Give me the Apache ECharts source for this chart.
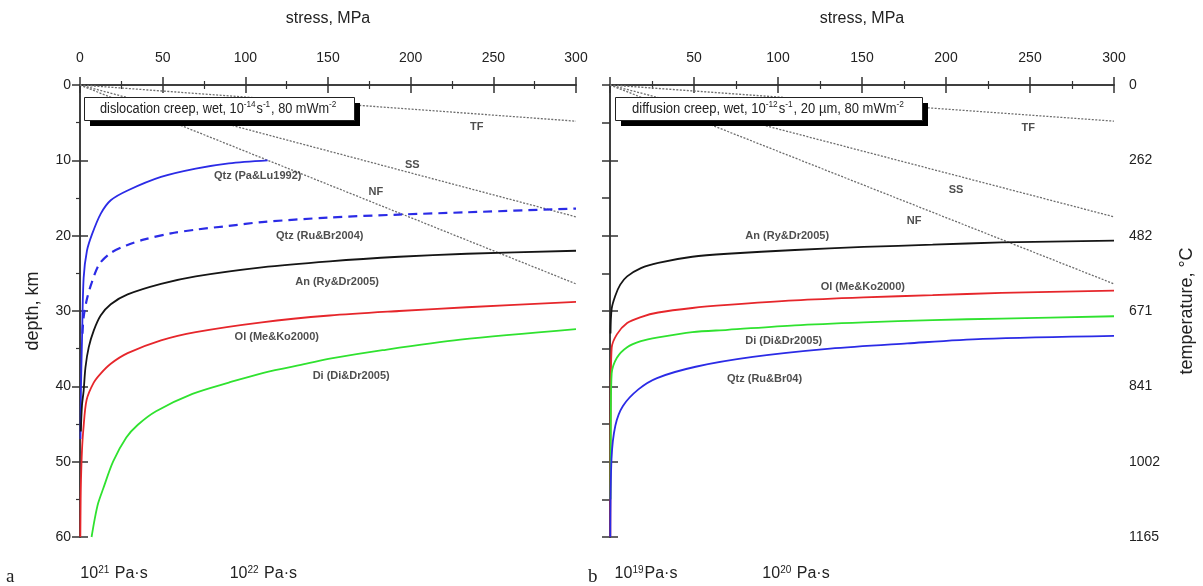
<!DOCTYPE html>
<html><head><meta charset="utf-8">
<script src="https://cdn.jsdelivr.net/npm/echarts@6/dist/echarts.min.js"></script>
<style>html,body{margin:0;padding:0;background:#fff}#c{width:1203px;height:586px}</style>
</head><body><div id="c"></div>
<script>
// ---------- data (stress MPa, depth km) ----------
const stressTicks = [0, 50, 100, 150, 200, 250, 300];
const depthTicks = [0, 10, 20, 30, 40, 50, 60];
const temperatureLabels = ['0', '262', '482', '671', '841', '1002', '1165'];
const viscosityLabelsA = ['21', '22'];
const viscosityLabelsB = ['19', '20'];

// panel a: dislocation creep
const aQtzPaLu = [[0.3,47],[0.6,40],[1.2,34],[2.2,25.6],[4.2,22],[7.3,19.8],[12.5,17.1],[18.6,15.3],[28.8,14],[49,12.2],[70,11.1],[90,10.4],[113.5,10]];
const aQtzRuBr = [[1.5,33],[2.2,30.8],[4.2,28.4],[7,26.3],[11.6,23.8],[18.6,22.3],[28,21.3],[39,20.5],[55,19.7],[70,19.2],[90,18.7],[110,18.2],[150,17.6],[193,17.2],[234,16.9],[300,16.4]];
const aAn = [[0.5,46],[1.2,42.5],[2.2,40.6],[3.3,37.5],[5.3,34.8],[8.3,32.6],[12.5,30.6],[18.6,29.1],[28.8,27.8],[49,26.4],[70,25.4],[110,24.2],[151,23.4],[193,22.8],[234,22.4],[300,22.0]];
const aOl = [[0.2,60],[0.4,55],[0.6,52.4],[1.2,48.5],[2,45.8],[4,41.8],[8.3,39.5],[12.5,38.3],[18.6,37],[28.8,35.6],[49,33.9],[70,32.8],[110,31.5],[151,30.6],[193,30],[234,29.5],[300,28.8]];
const aDi = [[7,60],[9,57.5],[11,55.5],[14,53.6],[20,50],[28,46.8],[35,45.1],[46,43.3],[68,41],[90,39.5],[111,38.2],[137,37],[152,36.3],[183,35.2],[230,33.8],[300,32.4]];

// panel b: diffusion creep
const bAn = [[0.3,33],[1,29.7],[3.1,28],[6.1,26.5],[10.2,25.4],[18.4,24.3],[28.7,23.6],[49,22.8],[70,22.4],[110,21.9],[151,21.5],[192,21.2],[233,20.9],[300,20.65]];
const bOl = [[0.2,60],[0.4,42],[1,34.9],[4.1,33.1],[10.2,31.6],[18.4,30.8],[28.7,30.2],[49,29.6],[70,29.2],[110,28.6],[151,28.2],[192,27.9],[233,27.6],[300,27.3]];
const bDi = [[0.3,55],[0.5,44],[1,38.3],[4.1,36.2],[10.2,34.8],[18.4,34],[28.7,33.5],[49,32.8],[70,32.5],[110,31.9],[151,31.5],[192,31.2],[233,31],[300,30.7]];
const bQtz = [[0.2,60],[0.9,49.6],[3.2,45.2],[7.7,42.6],[16.9,40.4],[28,38.9],[51,37.4],[85,36.1],[131,35.0],[177,34.3],[222,33.7],[300,33.3]];

// fault (frictional) lines, straight from origin
const faultTF = [[0,0],[300,4.8]];
const faultSS = [[0,0],[300,17.5]];
const faultNF = [[0,0],[300,26.4]];

// curve labels [stress, depth, text]
const labelsA = [[240,5.6,'TF'],[201,10.6,'SS'],[179,14.2,'NF'],[107.5,12.1,'Qtz (Pa&Lu1992)'],[145,20.1,'Qtz (Ru&Br2004)'],[155.5,26.2,'An (Ry&Dr2005)'],[119,33.4,'Ol (Me&Ko2000)'],[164,38.6,'Di (Di&Dr2005)']];
const labelsB = [[249,5.7,'TF'],[206,13.9,'SS'],[181,18.1,'NF'],[105.5,20.1,'An (Ry&Dr2005)'],[150.5,26.8,'Ol (Me&Ko2000)'],[103.4,34.0,'Di (Di&Dr2005)'],[92,39.0,'Qtz (Ru&Br04)']];

// ---------- styles ----------
const FONT = "'Liberation Sans',Arial,sans-serif";
const AX = '#333';
const C = {blue:'#2b2be6', red:'#e6262b', green:'#2fe22f', black:'#151515', fault:'#6e6e6e'};

function xTop(grid, hideZero){
  return {type:'value', gridIndex:grid, position:'top', min:0, max:300, interval:50,
    axisLine:{show:true,lineStyle:{color:AX,width:1.5}},
    axisTick:{show:true,inside:false,length:8,lineStyle:{color:AX,width:1.5}},
    minorTick:{show:true,splitNumber:2,length:4,lineStyle:{color:AX,width:1.2}},
    splitLine:{show:false},
    axisLabel:{show:true,fontFamily:FONT,fontSize:14,color:'#222',margin:20,
      formatter:v=> (hideZero && v===0) ? '' : String(v)},
    name:'stress, MPa', nameLocation:'middle', nameGap:58,
    nameTextStyle:{fontFamily:FONT,fontSize:16,color:'#222'}};
}
function xBottom(grid, exps, pads){
  return {type:'value', gridIndex:grid, position:'bottom', min:0, max:300, interval:50,
    axisLine:{show:true,lineStyle:{color:AX,width:1.5}},
    axisTick:{show:true,length:8,lineStyle:{color:AX,width:1.5}},
    minorTick:{show:true,splitNumber:2,length:4,lineStyle:{color:AX,width:1.2}},
    splitLine:{show:false},
    axisLabel:{show:true,margin:28,color:'#222',fontFamily:FONT,fontSize:16,
      formatter:v=>{
        if(v===0) return '{p0|}{b|10}{s|'+exps[0]+'}{b|'+pads[2]+'Pa·s}';
        if(v===100) return '{p1|}{b|10}{s|'+exps[1]+'}{b| Pa·s}';
        return '';
      },
      rich:{
        b:{fontFamily:FONT,fontSize:16,color:'#222'},
        s:{fontFamily:FONT,fontSize:10,color:'#222',verticalAlign:'top',padding:[0,1,8,0]},
        p0:{width:pads[0]}, p1:{width:pads[1]}
      }}};
}
function yAxis(grid, pos, opts){
  const o = Object.assign({labels:null, minor:false, interval:10, title:null, margin:9, gap:40}, opts||{});
  return {type:'value', gridIndex:grid, position:pos, inverse:true, min:0, max:60, interval:o.interval,
    axisLine:{show:true,lineStyle:{color:AX,width:1.5}},
    axisTick:{show:true,length:8,lineStyle:{color:AX,width:1.5}},
    minorTick:{show:o.minor,splitNumber:2,length:4,lineStyle:{color:AX,width:1.2}},
    splitLine:{show:false},
    axisLabel:{show:o.labels!==null,fontFamily:FONT,fontSize:14,color:'#222',margin:o.margin,
      formatter:v=> o.labels ? o.labels(v) : ''},
    name:o.title||'', nameLocation:'middle', nameGap:o.gap, nameRotate:90,
    nameTextStyle:{fontFamily:FONT,fontSize:18,color:'#222'}};
}

function curve(data, xi, yi, color, dashed){
  return {type:'line', data:data, xAxisIndex:xi, yAxisIndex:yi, smooth:0.3, showSymbol:false, symbol:'none',
    clip:true, z:3,
    lineStyle:{color:color, width:dashed?2.2:1.8, type: dashed?[9,6]:'solid'}};
}
function fault(data, xi, yi){
  return {type:'line', data:data, xAxisIndex:xi, yAxisIndex:yi, showSymbol:false, symbol:'none', z:2,
    lineStyle:{color:C.fault, width:1.3, type:[2,1.5]}};
}
function labelSeries(data, xi, yi){
  return {type:'scatter', data:data, xAxisIndex:xi, yAxisIndex:yi, symbolSize:0, z:5, silent:true,
    label:{show:true, position:'inside', formatter:p=>p.data[2],
      fontFamily:FONT, fontWeight:'bold', fontSize:11, color:'#222'}};
}

const boxRich = {t:{fontFamily:FONT,fontSize:14,fill:'#222',lineHeight:18},
                 s:{fontFamily:FONT,fontSize:9,fill:'#222',verticalAlign:'top',lineHeight:18,padding:[0,1,6,0]}};

const chart = echarts.init(document.getElementById('c'), null, {renderer:'canvas'});
chart.setOption({
  animation:false,
  backgroundColor:'#fff',
  grid:[
    {left:80, right:627, top:85, bottom:49, containLabel:false},
    {left:610, right:89, top:85, bottom:49, containLabel:false}
  ],
  xAxis:[
    xTop(0,false), xBottom(0, viscosityLabelsA, [68,36,' ']),
    xTop(1,true),  xBottom(1, viscosityLabelsB, [72,36,''])
  ],
  yAxis:[
    yAxis(0,'left',{labels:v=>String(v), minor:true, title:'depth, km', gap:38}),
    yAxis(0,'right',{}),
    yAxis(1,'left',{interval:5}),
    yAxis(1,'right',{labels:v=>temperatureLabels[depthTicks.indexOf(v)], title:'temperature, °C', margin:15, gap:64})
  ],
  series:[
    fault(faultTF,0,0), fault(faultSS,0,0), fault(faultNF,0,0),
    curve(aQtzPaLu,0,0,C.blue,false),
    curve(aQtzRuBr,0,0,C.blue,true),
    curve(aAn,0,0,C.black,false),
    curve(aOl,0,0,C.red,false),
    curve(aDi,0,0,C.green,false),
    labelSeries(labelsA,0,0),
    fault(faultTF,2,2), fault(faultSS,2,2), fault(faultNF,2,2),
    curve(bAn,2,2,C.black,false),
    curve(bOl,2,2,C.red,false),
    curve(bDi,2,2,C.green,false),
    curve(bQtz,2,2,C.blue,false),
    labelSeries(labelsB,2,2)
  ],
  graphic:[
    {type:'rect', left:90, top:103, shape:{width:270,height:23}, style:{fill:'#000'}, z:10},
    {type:'rect', left:84, top:97, shape:{width:270,height:23}, style:{fill:'#fff',stroke:'#222',lineWidth:1}, z:11},
    {type:'text', x:100, y:100, scaleX:0.91, z:12, style:{
      text:'{t|dislocation creep, wet, 10}{s|-14}{t|s}{s|-1}{t|, 80 mWm}{s|-2}', rich:boxRich}},
    {type:'rect', left:621, top:103, shape:{width:307,height:23}, style:{fill:'#000'}, z:10},
    {type:'rect', left:615, top:97, shape:{width:307,height:23}, style:{fill:'#fff',stroke:'#222',lineWidth:1}, z:11},
    {type:'text', x:632, y:100, scaleX:0.93, z:12, style:{
      text:'{t|diffusion creep, wet, 10}{s|-12}{t|s}{s|-1}{t|, 20 µm, 80 mWm}{s|-2}', rich:boxRich}},
    {type:'text', left:6, top:568, style:{text:'a', fontFamily:"'Liberation Serif','DejaVu Serif',serif", fontSize:19, fill:'#222'}},
    {type:'text', left:588, top:568, style:{text:'b', fontFamily:"'Liberation Serif','DejaVu Serif',serif", fontSize:19, fill:'#222'}}
  ]
});
</script></body></html>
